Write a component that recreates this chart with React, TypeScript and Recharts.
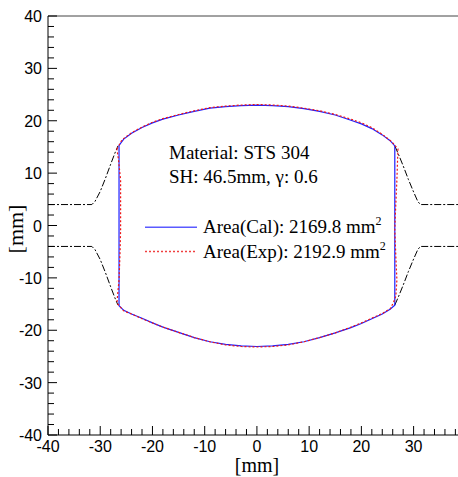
import React from 'react';
import { ComposedChart, Line, XAxis, YAxis, ReferenceLine } from 'recharts';

// tick labels
const xMajor = [-40, -30, -20, -10, 0, 10, 20, 30];
const yMajor = [-40, -30, -20, -10, 0, 10, 20, 30, 40];
const xTicks: number[] = [];
for (let v = -40; v <= 38; v += 2) xTicks.push(v);
const yTicks: number[] = [];
for (let v = -40; v <= 40; v += 2) yTicks.push(v);

// calculated profile (closed: top arc, right side, bottom arc, left side)
const calTop = [
  [-26.4, 15.3], [-25.5, 16.5], [-24, 17.6], [-22, 18.7], [-20, 19.6], [-18, 20.3],
  [-15, 21.1], [-12, 21.8], [-9, 22.4], [-6, 22.7], [-3, 22.9], [0, 23.0], [3, 22.9],
  [6, 22.7], [9, 22.3], [12, 21.8], [15, 21.1], [18, 20.1], [20, 19.4], [22, 18.5],
  [24, 17.3], [25.5, 16.2], [26.4, 15.2],
];
const calRight = [[26.4, 15.2], [26.4, -15.2]];
const calBottom = [
  [26.4, -15.2], [25.5, -16.0], [24, -16.9], [22, -17.8], [20, -18.7], [18, -19.5],
  [15, -20.5], [12, -21.4], [9, -22.2], [6, -22.7], [3, -23.0], [0, -23.1], [-3, -23.0],
  [-6, -22.7], [-9, -22.2], [-12, -21.4], [-15, -20.4], [-18, -19.4], [-20, -18.6],
  [-22, -17.7], [-24, -16.9], [-25.5, -16.2], [-26.4, -15.3],
];
const calLeft = [[-26.4, -15.3], [-26.4, 15.3]];

// experimental profile
const expTop = [
  [-26.8, 14.6], [-25.8, 16.4], [-24, 17.7], [-22, 18.8], [-20, 19.7], [-18, 20.4],
  [-15, 21.2], [-12, 21.9], [-9, 22.5], [-6, 22.8], [-3, 23.0], [0, 23.1], [3, 23.0],
  [6, 22.8], [9, 22.4], [12, 21.9], [15, 21.2], [18, 20.3], [20, 19.6], [22, 18.7],
  [24, 17.4], [25.8, 16.0], [27.0, 14.6],
];
const expRight = [
  [27.0, 14.6], [26.8, 8.7], [26.5, 2], [26.4, -0.9], [26.6, -6], [26.8, -10.4],
  [26.6, -13.5], [26.1, -14.8],
];
const expBottom = [
  [26.1, -14.8], [25.5, -15.9], [24, -16.8], [22, -17.7], [20, -18.6], [18, -19.4],
  [15, -20.5], [12, -21.4], [9, -22.2], [6, -22.8], [3, -23.1], [0, -23.2], [-3, -23.1],
  [-6, -22.8], [-9, -22.2], [-12, -21.4], [-15, -20.4], [-18, -19.4], [-20, -18.6],
  [-22, -17.8], [-24, -16.9], [-25.5, -16.3], [-26.8, -14.8],
];
const expLeft = [
  [-26.8, -14.8], [-26.6, -12.5], [-26.4, -10.4], [-26.2, -5], [-26.1, -0.9],
  [-26.1, 3], [-26.1, 8.7], [-26.5, 12.5], [-26.8, 14.6],
];

// tool outline (dash-dot)
const dieUpperLeft = [
  [-40, 4], [-31.6, 4], [-31, 4.6], [-30, 6.5], [-29, 9], [-28, 11.7], [-27.2, 13.8], [-26.6, 15.2],
];
const dieLowerLeft = [
  [-40, -4], [-31.6, -4], [-31, -4.6], [-30, -6.5], [-29, -9], [-28, -11.7], [-27.2, -13.8], [-26.6, -15.2],
];
const dieUpperRight = [
  [26.4, 15.2], [27.1, 13.6], [28, 11.4], [29, 8.8], [30, 6.4], [30.8, 4.6], [31.3, 4], [38.5, 4],
];
const dieLowerRight = [
  [26.4, -15.2], [27.1, -13.6], [28, -11.4], [29, -8.8], [30, -6.4], [30.8, -4.6], [31.3, -4], [38.5, -4],
];

const toPts = (arr: number[][]) => arr.map(([x, y]) => ({ x, y }));
const calPath = toPts([...calTop, ...calRight, ...calBottom, ...calLeft]);
const expPath = toPts([...expTop, ...expRight, ...expBottom, ...expLeft]);
const diePaths = [dieUpperLeft, dieLowerLeft, dieUpperRight, dieLowerRight].map(toPts);

const sans = '"Liberation Sans", Arial, sans-serif';
const serif = '"Liberation Serif", "Times New Roman", serif';
const BLUE = '#1f1fff';
const RED = '#f01818';

const XTick = (props: any) => {
  const { x, y, payload } = props;
  const major = xMajor.includes(payload.value);
  return (
    <g>
      <line x1={x} y1={y} x2={x} y2={y - (major ? 9 : 6)} stroke="#000" />
      {major && (
        <text x={x} y={y + 17} textAnchor="middle" fontFamily={sans} fontSize={16} fill="#000">
          {payload.value}
        </text>
      )}
    </g>
  );
};

const YTick = (props: any) => {
  const { x, y, payload } = props;
  const major = yMajor.includes(payload.value);
  return (
    <g>
      <line x1={x} y1={y} x2={x + (major ? 9 : 6)} y2={y} stroke="#000" />
      {major && (
        <text x={x - 6} y={y + 6} textAnchor="end" fontFamily={sans} fontSize={16} fill="#000">
          {payload.value}
        </text>
      )}
    </g>
  );
};

export default function App() {
  return (
    <div style={{ position: 'absolute', left: 0, top: 0, width: 458, height: 477, background: '#fff' }}>
      <ComposedChart width={458} height={477} margin={{ top: 16, right: 0, left: 0, bottom: 0 }}>
        <XAxis
          dataKey="x"
          type="number"
          domain={[-40, 38.5]}
          allowDataOverflow
          ticks={xTicks}
          interval={0}
          height={42}
          tickSize={0}
          tickMargin={0}
          tickLine={false}
          tick={<XTick />}
          axisLine={{ stroke: '#000' }}
        />
        <YAxis
          dataKey="y"
          type="number"
          domain={[-40, 40]}
          allowDataOverflow
          ticks={yTicks}
          interval={0}
          width={48}
          tickSize={0}
          tickMargin={0}
          tickLine={false}
          tick={<YTick />}
          axisLine={{ stroke: '#000' }}
        />
        <ReferenceLine y={40} stroke="#444" />
        {diePaths.map((d, i) => (
          <Line
            key={i}
            data={d}
            dataKey="y"
            type="linear"
            stroke="#000"
            strokeWidth={1}
            strokeDasharray="7 2 2 2"
            dot={false}
            isAnimationActive={false}
          />
        ))}
        <Line data={calPath} dataKey="y" type="linear" stroke={BLUE} strokeWidth={1.2} dot={false} isAnimationActive={false} />
        <Line data={expPath} dataKey="y" type="linear" stroke={RED} strokeWidth={1.2} strokeDasharray="2 2" dot={false} isAnimationActive={false} />
      </ComposedChart>
      <svg width={458} height={477} style={{ position: 'absolute', left: 0, top: 0, pointerEvents: 'none' }}>
        <text x={169} y={159} fontFamily={serif} fontSize={19} fill="#000">Material: STS 304</text>
        <text x={169} y={183} fontFamily={serif} fontSize={19} fill="#000">SH: 46.5mm, γ: 0.6</text>
        <rect x={145} y={226.5} width={52} height={1.5} fill="#5a5aff" />
        <text x={203} y={233} fontFamily={serif} fontSize={19} fill="#000">
          Area(Cal): 2169.8 mm<tspan dy={-8} fontSize={12}>2</tspan>
        </text>
        <path d="M145 251.5 H197" fill="none" stroke="#f04040" strokeWidth={1.5} strokeDasharray="2 2" />
        <text x={203} y={258} fontFamily={serif} fontSize={19} fill="#000">
          Area(Exp): 2192.9 mm<tspan dy={-8} fontSize={12}>2</tspan>
        </text>
        <text x={257} y={472} textAnchor="middle" fontFamily={serif} fontSize={20} fill="#000">[mm]</text>
        <text x={23} y={229} textAnchor="middle" fontFamily={serif} fontSize={22} fill="#000" transform="rotate(-90 23 229)">[mm]</text>
      </svg>
    </div>
  );
}
